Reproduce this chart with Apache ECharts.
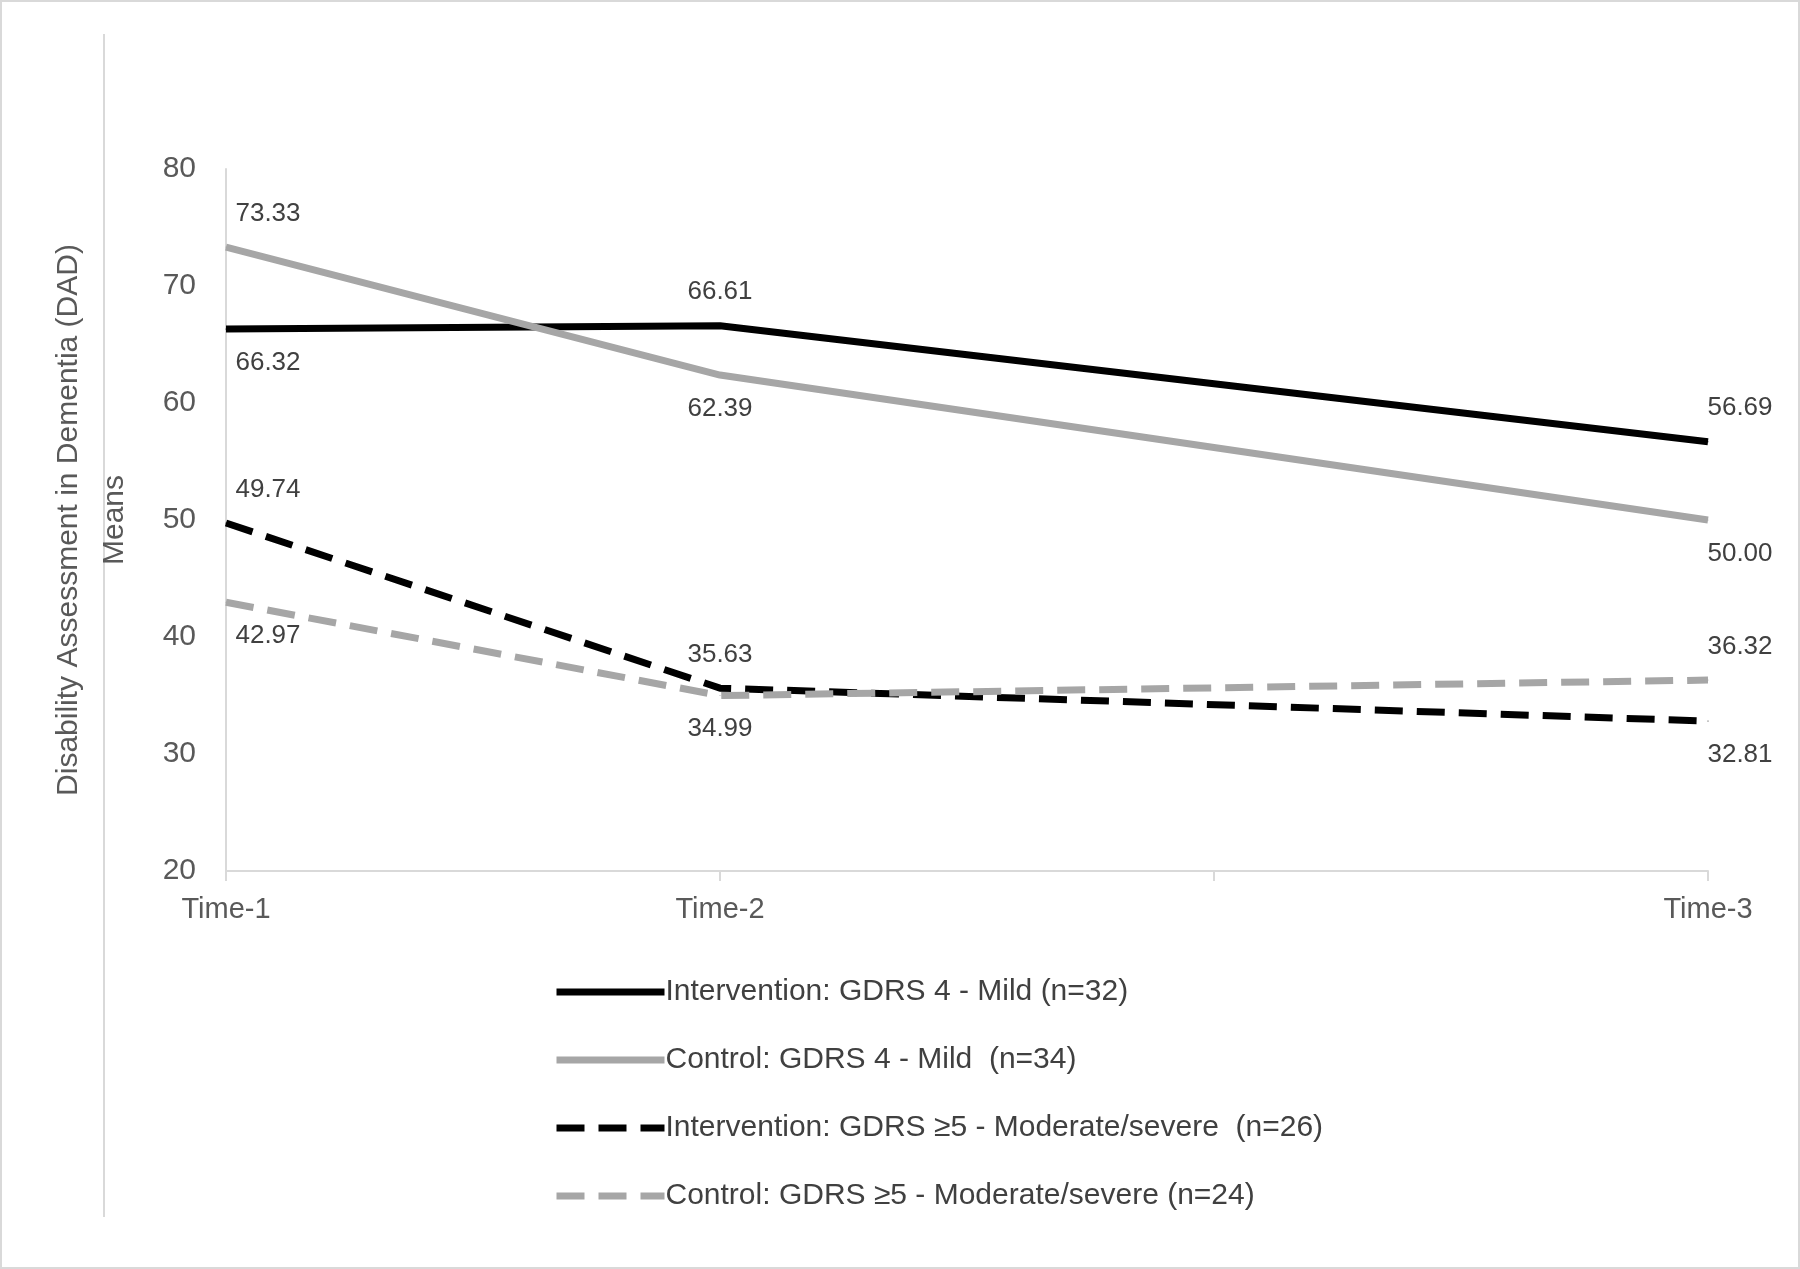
<!DOCTYPE html>
<html><head><meta charset="utf-8">
<script src="https://cdn.jsdelivr.net/npm/echarts@6/dist/echarts.min.js"></script>
<style>html,body{margin:0;padding:0;background:#fff}#c{width:1800px;height:1269px}</style>
</head><body><div id="c"></div>
<script>
const categories = ['Time-1', 'Time-2', '', 'Time-3'];
const seriesNames = [
  'Intervention: GDRS 4 - Mild (n=32)',
  'Control: GDRS 4 - Mild  (n=34)',
  'Intervention: GDRS \u22655 - Moderate/severe  (n=26)',
  'Control: GDRS \u22655 - Moderate/severe (n=24)'
];
const intMild = [66.32, 66.61, null, 56.69];
const ctlMild = [73.33, 62.39, null, 50.00];
const intMod = [49.74, 35.63, null, 32.81];
const ctlMod = [42.97, 34.99, null, 36.32];
const labelPos = [
  ['bottom', 'top', null, 'top'],
  ['top', 'bottom', null, 'bottom'],
  ['top', 'top', null, 'bottom'],
  ['bottom', 'bottom', null, 'top']
];
const colors = ['#000000', '#a6a6a6', '#000000', '#a6a6a6'];
const types = ['solid', 'solid', 'dashed', 'dashed'];
const all = [intMild, ctlMild, intMod, ctlMod];

function mk(i) {
  return {
    name: seriesNames[i], type: 'line', symbol: 'circle', symbolSize: 1, showSymbol: true, connectNulls: true,
    lineStyle: { color: colors[i], width: 7, type: types[i] },
    itemStyle: { color: colors[i] },
    data: all[i].map((v, j) => v === null ? null : {
      value: v,
      label: {
        show: true, position: labelPos[i][j], distance: 20,
        offset: [j === 0 ? 42 : (j === 3 ? 32 : 0), 0],
        formatter: p => p.value.toFixed(2),
        fontSize: 26, color: '#404040', fontFamily: 'Liberation Sans'
      }
    })
  };
}

const chart = echarts.init(document.getElementById('c'));
chart.setOption({
  animation: false,
  backgroundColor: '#fff',
  textStyle: { fontFamily: 'Liberation Sans' },
  graphic: [
    { type: 'rect', shape: { x: 1, y: 1, width: 1798, height: 1267 }, style: { fill: 'none', stroke: '#d9d9d9', lineWidth: 2 } },
    { type: 'line', shape: { x1: 104, y1: 34, x2: 104, y2: 1217 }, style: { stroke: '#d9d9d9', lineWidth: 2 } }
  ],
  grid: { left: 226, right: 92, top: 169, bottom: 398 },
  xAxis: {
    type: 'category', data: categories, boundaryGap: false,
    axisLine: { lineStyle: { color: '#d9d9d9', width: 2 } },
    axisTick: { show: true, length: 10, lineStyle: { color: '#d9d9d9', width: 2 } },
    axisLabel: { fontSize: 29, color: '#595959', margin: 24, interval: 0 }
  },
  yAxis: {
    type: 'value', min: 20, max: 80, interval: 10,
    name: 'Disability Assessment in Dementia (DAD)\nMeans',
    nameLocation: 'middle', nameGap: 88, nameRotate: 90,
    nameTextStyle: { fontSize: 30, color: '#595959', lineHeight: 46 },
    axisLine: { show: true, lineStyle: { color: '#d9d9d9', width: 2 } },
    splitLine: { show: false },
    axisLabel: { fontSize: 30, color: '#595959', margin: 30 }
  },
  legend: {
    orient: 'vertical', left: 548, top: 972, itemGap: 38,
    itemWidth: 108, itemHeight: 14,
    itemStyle: { opacity: 0 },
    lineStyle: { width: 7 },
    textStyle: { fontSize: 30, color: '#404040', padding: [0, 0, 0, -4] },
    data: seriesNames
  },
  series: [0, 1, 2, 3].map(mk)
});
</script></body></html>
